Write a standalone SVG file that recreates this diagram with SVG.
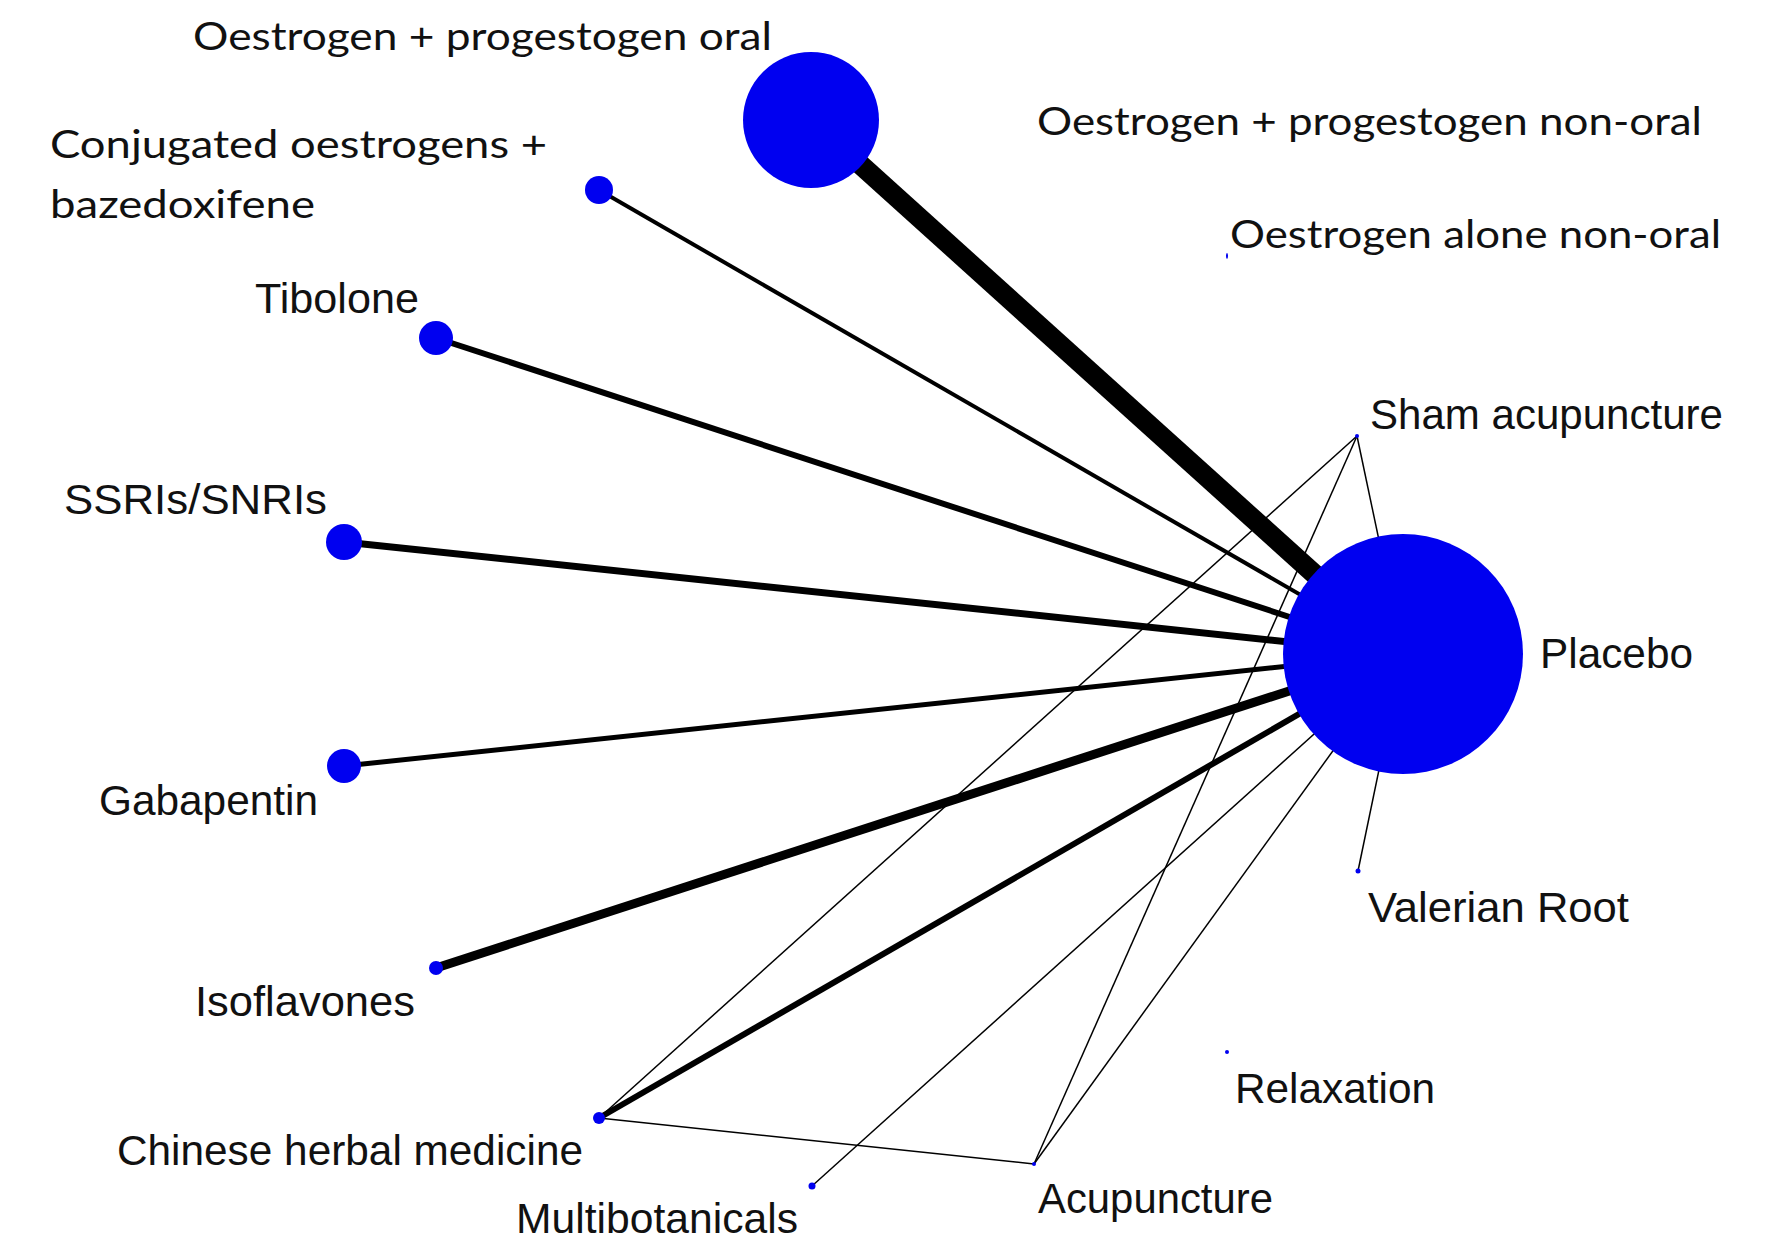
<svg xmlns="http://www.w3.org/2000/svg" width="1770" height="1245" viewBox="0 0 1770 1245">
<style>
.n{fill:#0000f0}
.e{stroke:#000;stroke-linecap:butt;fill:none}
.a{font-family:"Liberation Sans",Arial,sans-serif;font-size:42px;fill:#111}
.c{font-family:Lato,"Open Sans","Liberation Sans",sans-serif;font-size:39px;fill:#111}
</style>
<rect width="1770" height="1245" fill="#fff"/>
<g id="connectors">
<line class="e" x1="811" y1="120" x2="1403" y2="654" stroke-width="20"/>
<line class="e" x1="599" y1="190" x2="1403" y2="654" stroke-width="4"/>
<line class="e" x1="436" y1="338" x2="1403" y2="654" stroke-width="6"/>
<line class="e" x1="344" y1="542" x2="1403" y2="654" stroke-width="7"/>
<line class="e" x1="344" y1="766" x2="1403" y2="654" stroke-width="5"/>
<line class="e" x1="436" y1="968" x2="1403" y2="654" stroke-width="9"/>
<line class="e" x1="599" y1="1118" x2="1403" y2="654" stroke-width="6"/>
<line class="e" x1="812" y1="1186" x2="1403" y2="654" stroke-width="1.5"/>
<line class="e" x1="1034" y1="1164" x2="1403" y2="654" stroke-width="1.5"/>
<line class="e" x1="1358" y1="871" x2="1403" y2="654" stroke-width="1.5"/>
<line class="e" x1="1357" y1="436" x2="1403" y2="654" stroke-width="1.5"/>
<line class="e" x1="1357" y1="436" x2="599" y2="1118" stroke-width="1.5"/>
<line class="e" x1="1357" y1="436" x2="1034" y2="1164" stroke-width="1.5"/>
<line class="e" x1="599" y1="1118" x2="1034" y2="1164" stroke-width="1.5"/>
</g>
<g id="placebo"><circle class="n" cx="1403" cy="654" r="120"/><text class="a" x="1540" y="668" textLength="153" lengthAdjust="spacingAndGlyphs">Placebo</text></g>
<g id="oest-prog-oral"><circle class="n" cx="811" cy="120" r="68"/><text class="c" x="193" y="50" textLength="579" lengthAdjust="spacingAndGlyphs">Oestrogen + progestogen oral</text></g>
<g id="oest-prog-nonoral"><text class="c" x="1037" y="135" textLength="665" lengthAdjust="spacingAndGlyphs">Oestrogen + progestogen non-oral</text></g>
<g id="oest-alone-nonoral"><ellipse class="n" cx="1227" cy="256" rx="1" ry="3"/><text class="c" x="1230" y="248" textLength="491" lengthAdjust="spacingAndGlyphs">Oestrogen alone non-oral</text></g>
<g id="ceb"><circle class="n" cx="599" cy="190" r="14"/><text class="c" x="50" y="158" textLength="497" lengthAdjust="spacingAndGlyphs">Conjugated oestrogens +</text><text class="c" x="50" y="218" textLength="265" lengthAdjust="spacingAndGlyphs">bazedoxifene</text></g>
<g id="tibolone"><circle class="n" cx="436" cy="338" r="17"/><text class="a" x="255" y="313" textLength="164" lengthAdjust="spacingAndGlyphs">Tibolone</text></g>
<g id="ssri"><circle class="n" cx="344" cy="542" r="18"/><text class="a" x="64" y="514" textLength="263" lengthAdjust="spacingAndGlyphs">SSRIs/SNRIs</text></g>
<g id="gabapentin"><circle class="n" cx="344" cy="766" r="17"/><text class="a" x="99" y="815" textLength="219" lengthAdjust="spacingAndGlyphs">Gabapentin</text></g>
<g id="isoflavones"><circle class="n" cx="436" cy="968" r="7"/><text class="a" x="195" y="1016" textLength="220" lengthAdjust="spacingAndGlyphs">Isoflavones</text></g>
<g id="chm"><circle class="n" cx="599" cy="1118" r="6"/><text class="a" x="117" y="1165" textLength="466" lengthAdjust="spacingAndGlyphs">Chinese herbal medicine</text></g>
<g id="multibotanicals"><circle class="n" cx="812" cy="1186" r="3.5"/><text class="a" x="516" y="1233" textLength="282" lengthAdjust="spacingAndGlyphs">Multibotanicals</text></g>
<g id="acupuncture"><circle class="n" cx="1034" cy="1164" r="2"/><text class="a" x="1038" y="1213" textLength="235" lengthAdjust="spacingAndGlyphs">Acupuncture</text></g>
<g id="relaxation"><circle class="n" cx="1227" cy="1052" r="2"/><text class="a" x="1235" y="1103" textLength="200" lengthAdjust="spacingAndGlyphs">Relaxation</text></g>
<g id="valerian"><circle class="n" cx="1358" cy="871" r="2.5"/><text class="a" x="1368" y="922" textLength="261" lengthAdjust="spacingAndGlyphs">Valerian Root</text></g>
<g id="sham"><circle class="n" cx="1357" cy="436" r="2"/><text class="a" x="1370" y="429" textLength="353" lengthAdjust="spacingAndGlyphs">Sham acupuncture</text></g>
</svg>
